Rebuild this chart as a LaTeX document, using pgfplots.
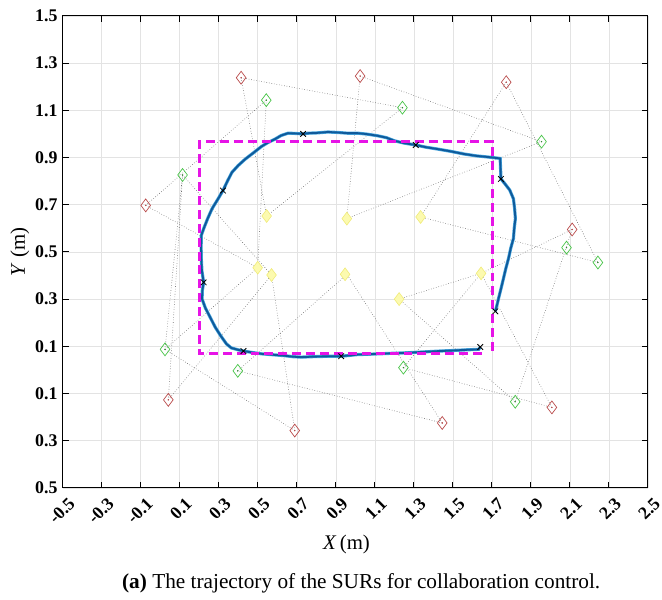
\documentclass[border=0pt]{standalone}
\usepackage{fontspec}
\setmainfont{Liberation Serif}
\usepackage{pgfplots}
\pgfplotsset{compat=1.18}
\definecolor{traj}{RGB}{15,90,155}
\definecolor{trajglow}{RGB}{70,165,220}
\definecolor{mag}{RGB}{230,20,230}
\definecolor{rd}{RGB}{185,75,75}
\definecolor{gn}{RGB}{70,195,70}
\definecolor{yl}{RGB}{240,235,120}
\definecolor{ylf}{RGB}{252,250,175}
\definecolor{dl}{RGB}{110,110,110}
\begin{document}
\begin{tikzpicture}
\begin{axis}[name=ax, scale only axis, width=589bp, height=475bp,
  xmin=-0.5, xmax=2.5, ymin=-0.5, ymax=1.5,
  xtick={-0.5,-0.3,-0.1,0.1,0.3,0.5,0.7,0.9,1.1,1.3,1.5,1.7,1.9,2.1,2.3,2.5},
  xticklabels={-0.5,-0.3,-0.1,0.1,0.3,0.5,0.7,0.9,1.1,1.3,1.5,1.7,1.9,2.1,2.3,2.5},
  ytick={-0.5,-0.3,-0.1,0.1,0.3,0.5,0.7,0.9,1.1,1.3,1.5},
  yticklabels={0.5,0.3,0.1,0.1,0.3,0.5,0.7,0.9,1.1,1.3,1.5},
  grid=major, major grid style={gray!22, line width=0.4pt},
  tick align=inside, xtick pos=both, ytick pos=both,
  major tick length=6bp,
  tick style={black, line width=0.9pt},
  axis line style={line width=1.1pt, black},
  ticklabel style={font=\fontsize{18}{19}\selectfont\bfseries},
  xticklabel style={rotate=45, anchor=north east, inner sep=0.5pt, yshift=-9bp, xshift=-2bp},
  yticklabel style={inner sep=1pt, xshift=-4bp},
  xlabel={\textit{X}\,(m)}, ylabel={\textit{Y} (m)},
  label style={font=\fontsize{21}{22}\selectfont},
  xlabel style={at={(axis description cs:0.485,-0.12)}, anchor=center},
  ylabel style={at={(axis description cs:-0.073,0.5)}, anchor=center},
]
% dotted connection lines
\pgfplotsset{conn/.style={dl, dotted, line width=0.6pt, forget plot}}
\addplot[conn] coordinates {(0.415,1.238) (1.242,1.111)};
\addplot[conn] coordinates {(1.242,1.111) (0.546,0.652)};
\addplot[conn] coordinates {(0.415,1.238) (0.546,0.652)};
\addplot[conn] coordinates {(1.025,1.245) (1.955,0.967)};
\addplot[conn] coordinates {(1.955,0.967) (0.957,0.641)};
\addplot[conn] coordinates {(1.025,1.245) (0.957,0.641)};
\addplot[conn] coordinates {(1.774,1.219) (2.244,0.455)};
\addplot[conn] coordinates {(2.244,0.455) (1.335,0.648)};
\addplot[conn] coordinates {(1.774,1.219) (1.335,0.648)};
\addplot[conn] coordinates {(-0.074,0.697) (0.544,1.143)};
\addplot[conn] coordinates {(0.544,1.143) (0.500,0.433)};
\addplot[conn] coordinates {(-0.074,0.697) (0.500,0.433)};
\addplot[conn] coordinates {(0.042,-0.127) (0.115,0.826)};
\addplot[conn] coordinates {(0.115,0.826) (0.571,0.402)};
\addplot[conn] coordinates {(0.042,-0.127) (0.571,0.402)};
\addplot[conn] coordinates {(0.690,-0.257) (0.025,0.087)};
\addplot[conn] coordinates {(0.025,0.087) (0.500,0.433)};
\addplot[conn] coordinates {(0.690,-0.257) (0.571,0.402)};
\addplot[conn] coordinates {(1.446,-0.225) (0.398,-0.004)};
\addplot[conn] coordinates {(0.398,-0.004) (0.957,0.405)};
\addplot[conn] coordinates {(1.446,-0.225) (0.957,0.405)};
\addplot[conn] coordinates {(2.008,-0.159) (1.247,0.0095)};
\addplot[conn] coordinates {(1.247,0.0095) (1.645,0.409)};
\addplot[conn] coordinates {(2.008,-0.159) (1.645,0.409)};
\addplot[conn] coordinates {(2.112,0.595) (1.820,-0.135)};
\addplot[conn] coordinates {(1.820,-0.135) (1.225,0.300)};
\addplot[conn] coordinates {(1.225,0.300) (1.645,0.409)};
\addplot[conn] coordinates {(1.645,0.409) (2.112,0.595)};
\addplot[conn] coordinates {(0.115,0.826) (0.025,0.087)};
% trajectory
\pgfplotstableread{
x y
1.718 0.248
1.727 0.276
1.735 0.304
1.748 0.347
1.760 0.388
1.772 0.430
1.786 0.473
1.797 0.515
1.811 0.557
1.815 0.600
1.821 0.641
1.817 0.683
1.811 0.725
1.792 0.762
1.766 0.790
1.747 0.809
1.745 0.852
1.743 0.896
1.692 0.901
1.620 0.907
1.556 0.915
1.490 0.926
1.420 0.936
1.360 0.944
1.310 0.953
1.250 0.961
1.200 0.971
1.160 0.984
1.115 0.992
1.060 0.999
1.013 1.003
0.960 1.003
0.911 1.006
0.860 1.008
0.800 1.004
0.760 1.003
0.733 1.000
0.690 1.002
0.656 1.003
0.620 0.993
0.589 0.978
0.550 0.962
0.520 0.947
0.480 0.921
0.436 0.893
0.400 0.866
0.368 0.837
0.345 0.800
0.322 0.760
0.295 0.722
0.266 0.683
0.243 0.640
0.223 0.598
0.211 0.570
0.210 0.520
0.211 0.470
0.214 0.420
0.223 0.371
0.216 0.335
0.215 0.300
0.232 0.262
0.255 0.225
0.283 0.180
0.310 0.145
0.340 0.110
0.365 0.093
0.400 0.085
0.427 0.080
0.470 0.074
0.520 0.068
0.580 0.064
0.640 0.060
0.680 0.056
0.724 0.054
0.780 0.056
0.830 0.057
0.880 0.058
0.928 0.058
0.980 0.062
1.013 0.065
1.064 0.066
1.120 0.068
1.180 0.070
1.250 0.072
1.300 0.074
1.370 0.077
1.437 0.080
1.500 0.082
1.570 0.085
1.633 0.087
1.641 0.097
}\traj
\addplot[trajglow, line width=3.2pt, forget plot] table {\traj};
\addplot[traj, line width=1.9pt, forget plot] table {\traj};
% desired formation rectangle
\addplot[mag, line width=3pt, dash pattern=on 9bp off 5bp, forget plot]
  coordinates {(1.650,0.068) (0.203,0.068) (0.203,0.967) (1.704,0.967) (1.704,0.065)};
% robot positions
\addplot[only marks, mark=x, mark size=4pt, black, mark options={line width=0.8pt}]
  coordinates {(0.733,1.000) (1.310,0.953) (1.747,0.809) (1.718,0.248) (1.641,0.097)
               (0.928,0.058) (0.427,0.080) (0.223,0.371) (0.322,0.760)};
% yellow markers
\addplot[only marks, mark=diamond*, mark size=6.5pt, mark options={draw=yl, fill=ylf, line width=0.6pt}]
  coordinates {(0.546,0.652) (0.500,0.433) (0.571,0.402) (0.957,0.641) (1.335,0.648)
               (0.948,0.405) (1.645,0.409) (1.225,0.300)};
% green diamonds
\addplot[only marks, mark=diamond, mark size=6.5pt, mark options={draw=gn, line width=0.7pt}]
  coordinates {(0.544,1.143) (1.242,1.111) (1.955,0.967) (0.115,0.826) (2.083,0.518)
               (2.244,0.455) (0.025,0.087) (0.398,-0.004) (1.247,0.0095) (1.820,-0.135)};
\addplot[only marks, mark=*, mark size=0.5pt, gn!70!black]
  coordinates {(0.544,1.143) (1.242,1.111) (1.955,0.967) (0.115,0.826) (2.083,0.518)
               (2.244,0.455) (0.025,0.087) (0.398,-0.004) (1.247,0.0095) (1.820,-0.135)};
% red diamonds
\addplot[only marks, mark=diamond, mark size=6.5pt, mark options={draw=rd, line width=0.7pt}]
  coordinates {(0.415,1.238) (1.025,1.245) (1.774,1.219) (-0.074,0.697) (2.112,0.595)
               (0.042,-0.127) (0.690,-0.257) (1.446,-0.225) (2.008,-0.159)};
\addplot[only marks, mark=*, mark size=0.5pt, rd]
  coordinates {(0.415,1.238) (1.025,1.245) (1.774,1.219) (-0.074,0.697) (2.112,0.595)
               (0.042,-0.127) (0.690,-0.257) (1.446,-0.225) (2.008,-0.159)};
\end{axis}
\node[font=\fontsize{21.5}{23}\selectfont] at ([xshift=6bp, yshift=-96bp]ax.south)
  {\textbf{(a)} The trajectory of the SURs for collaboration control.};
\path[use as bounding box] ([xshift=-63bp,yshift=-112bp]ax.south west)
  rectangle ([xshift=10bp,yshift=16bp]ax.north east);
\end{tikzpicture}
\end{document}
